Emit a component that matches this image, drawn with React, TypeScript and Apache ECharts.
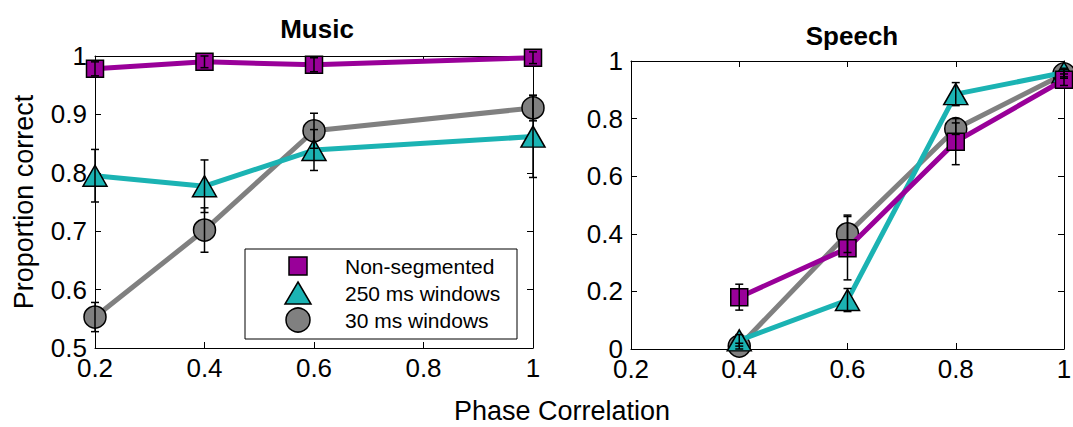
import React, { useEffect, useRef } from 'react';
import * as echarts from 'echarts';

// ---------- data ----------
const seriesNames = ['Non-segmented', '250 ms windows', '30 ms windows'];
const seriesColors = ['#990099', '#1BB3B3', '#808080'];
const seriesSymbols = ['rect', 'triangle', 'circle'];
const seriesZ = [5, 4, 3];

const musicX = [0.2, 0.4, 0.6, 1.0];
const musicNonSeg = [0.978, 0.99, 0.985, 0.997];
const music250 = [0.795, 0.777, 0.839, 0.862];
const music30 = [0.553, 0.702, 0.872, 0.911];
const musicNonSegErr = [0.012, 0.01, 0.012, 0.01];
const music250Err = [0.045, 0.045, 0.035, 0.07];
const music30Err = [0.025, 0.038, 0.03, 0.022];

const speechX = [0.4, 0.6, 0.8, 1.0];
const speechNonSeg = [0.18, 0.35, 0.72, 0.935];
const speech250 = [0.03, 0.17, 0.885, 0.96];
const speech30 = [0.01, 0.4, 0.765, 0.955];
const speechNonSegErr = [0.045, 0.11, 0.08, 0.02];
const speech250Err = [0.02, 0.04, 0.04, 0.015];
const speech30Err = [0.01, 0.065, 0.02, 0.015];

const panelTitles = ['Music', 'Speech'];
const xAxisTitle = 'Phase Correlation';
const yAxisTitle = 'Proportion correct';

const FONT = '"Liberation Sans", Arial, sans-serif';

export default function App() {
  const ref = useRef<HTMLDivElement>(null);

  useEffect(() => {
    if (!ref.current) return;
    const chart = echarts.init(ref.current, undefined, { renderer: 'svg' });

    const grids = [
      { left: 95, top: 56, width: 438, height: 292 },
      { left: 631, top: 61, width: 433, height: 288 },
    ];

    const tickStyle = { show: true, inside: true, length: 6, lineStyle: { color: '#000', width: 1 } };
    const lineStyle = { show: true, lineStyle: { color: '#000', width: 1 } };
    const labelStyle = { color: '#000', fontSize: 26, fontFamily: FONT };

    const makeX = (gridIndex: number, position: 'bottom' | 'top') => ({
      type: 'value',
      gridIndex,
      position,
      min: 0.2,
      max: 1,
      interval: 0.2,
      axisLine: { ...lineStyle, onZero: false },
      axisTick: tickStyle,
      splitLine: { show: false },
      axisLabel: position === 'bottom' ? { ...labelStyle, margin: 7 } : { show: false },
    });

    const makeY = (gridIndex: number, position: 'left' | 'right', min: number, interval: number, withName: boolean) => ({
      type: 'value',
      gridIndex,
      position,
      min,
      max: 1,
      interval,
      axisLine: { ...lineStyle, onZero: false },
      axisTick: tickStyle,
      splitLine: { show: false },
      axisLabel: position === 'left' ? { ...labelStyle, margin: 8 } : { show: false },
      ...(withName
        ? {
            name: yAxisTitle,
            nameLocation: 'middle',
            nameGap: 58,
            nameTextStyle: { color: '#000', fontSize: 27, fontFamily: FONT },
          }
        : {}),
    });

    const panels = [
      { x: musicX, vals: [musicNonSeg, music250, music30], errs: [musicNonSegErr, music250Err, music30Err], axis: 0 },
      { x: speechX, vals: [speechNonSeg, speech250, speech30], errs: [speechNonSegErr, speech250Err, speech30Err], axis: 2 },
    ];

    const symbolSizes: any[] = [17, [24, 21], 22];

    const series: any[] = [];
    panels.forEach((p) => {
      p.vals.forEach((vals, si) => {
        series.push({
          type: 'line',
          name: seriesNames[si],
          xAxisIndex: p.axis,
          yAxisIndex: p.axis,
          data: p.x.map((x, i) => [x, vals[i]]),
          symbol: seriesSymbols[si],
          symbolSize: symbolSizes[si],
          showAllSymbol: true,
          clip: false,
          z: seriesZ[si],
          lineStyle: { color: seriesColors[si], width: 5 },
          itemStyle: { color: seriesColors[si], borderColor: '#000', borderWidth: 1.5 },
          emphasis: { disabled: true },
        });
      });
      const errData: number[][] = [];
      p.vals.forEach((vals, si) => {
        p.x.forEach((x, i) => {
          errData.push([x, vals[i] - p.errs[si][i], vals[i] + p.errs[si][i]]);
        });
      });
      series.push({
        type: 'custom',
        name: 'errorbars',
        xAxisIndex: p.axis,
        yAxisIndex: p.axis,
        z: 10,
        clip: false,
        encode: { x: 0, y: [1, 2] },
        data: errData,
        renderItem: (params: any, api: any) => {
          const x = api.value(0);
          const lo = api.value(1);
          const hi = api.value(2);
          const top = api.coord([x, hi]);
          const bot = api.coord([x, lo]);
          const cap = 4;
          const style = { stroke: '#000', lineWidth: 1.5 };
          return {
            type: 'group',
            children: [
              { type: 'line', shape: { x1: top[0], y1: top[1], x2: bot[0], y2: bot[1] }, style },
              { type: 'line', shape: { x1: top[0] - cap, y1: top[1], x2: top[0] + cap, y2: top[1] }, style },
              { type: 'line', shape: { x1: bot[0] - cap, y1: bot[1], x2: bot[0] + cap, y2: bot[1] }, style },
            ],
          };
        },
      });
    });

    // legend drawn as graphic elements
    const legendLeft = 245;
    const legendTop = 249;
    const legendRowY = [266, 293, 320];
    const legendIconX = 298;
    const legendTextX = 345;
    const legendChildren: any[] = [
      {
        type: 'rect',
        shape: { x: legendLeft, y: legendTop, width: 272, height: 90 },
        style: { fill: '#fff', stroke: '#000', lineWidth: 1 },
      },
    ];
    seriesNames.forEach((name, i) => {
      const cy = legendRowY[i];
      const st = { fill: seriesColors[i], stroke: '#000', lineWidth: 1.5 };
      if (seriesSymbols[i] === 'rect') {
        legendChildren.push({ type: 'rect', shape: { x: legendIconX - 9, y: cy - 9, width: 18, height: 18 }, style: st });
      } else if (seriesSymbols[i] === 'triangle') {
        legendChildren.push({
          type: 'polygon',
          shape: { points: [[legendIconX, cy - 11], [legendIconX + 13, cy + 11], [legendIconX - 13, cy + 11]] },
          style: st,
        });
      } else {
        legendChildren.push({ type: 'circle', shape: { cx: legendIconX, cy, r: 12 }, style: st });
      }
      legendChildren.push({
        type: 'text',
        x: legendTextX,
        y: cy,
        style: { text: name, fill: '#000', fontSize: 21, fontFamily: FONT, verticalAlign: 'middle', align: 'left' },
      });
    });

    const option: any = {
      animation: false,
      backgroundColor: '#fff',
      textStyle: { fontFamily: FONT },
      title: [
        { text: panelTitles[0], left: 312, top: 11, textAlign: 'center', textStyle: { fontSize: 26, fontWeight: 'bold', color: '#000', fontFamily: FONT } },
        { text: panelTitles[1], left: 847, top: 18, textAlign: 'center', textStyle: { fontSize: 26, fontWeight: 'bold', color: '#000', fontFamily: FONT } },
      ],
      grid: grids.map((g) => ({ ...g, outerBoundsMode: 'none', containLabel: false })),
      xAxis: [makeX(0, 'bottom'), makeX(0, 'top'), makeX(1, 'bottom'), makeX(1, 'top')],
      yAxis: [
        makeY(0, 'left', 0.5, 0.1, true),
        makeY(0, 'right', 0.5, 0.1, false),
        makeY(1, 'left', 0, 0.2, false),
        makeY(1, 'right', 0, 0.2, false),
      ],
      series,
      graphic: [
        { type: 'group', z: 20, children: legendChildren },
        {
          type: 'text',
          x: 562,
          y: 411,
          style: { text: xAxisTitle, fill: '#000', fontSize: 27, fontFamily: FONT, align: 'center', verticalAlign: 'middle' },
        },
      ],
    };

    chart.setOption(option);
    return () => chart.dispose();
  }, []);

  return (
    <div
      ref={ref}
      style={{ position: 'fixed', left: 0, top: 0, width: 1073, height: 427, background: '#fff' }}
    />
  );
}
